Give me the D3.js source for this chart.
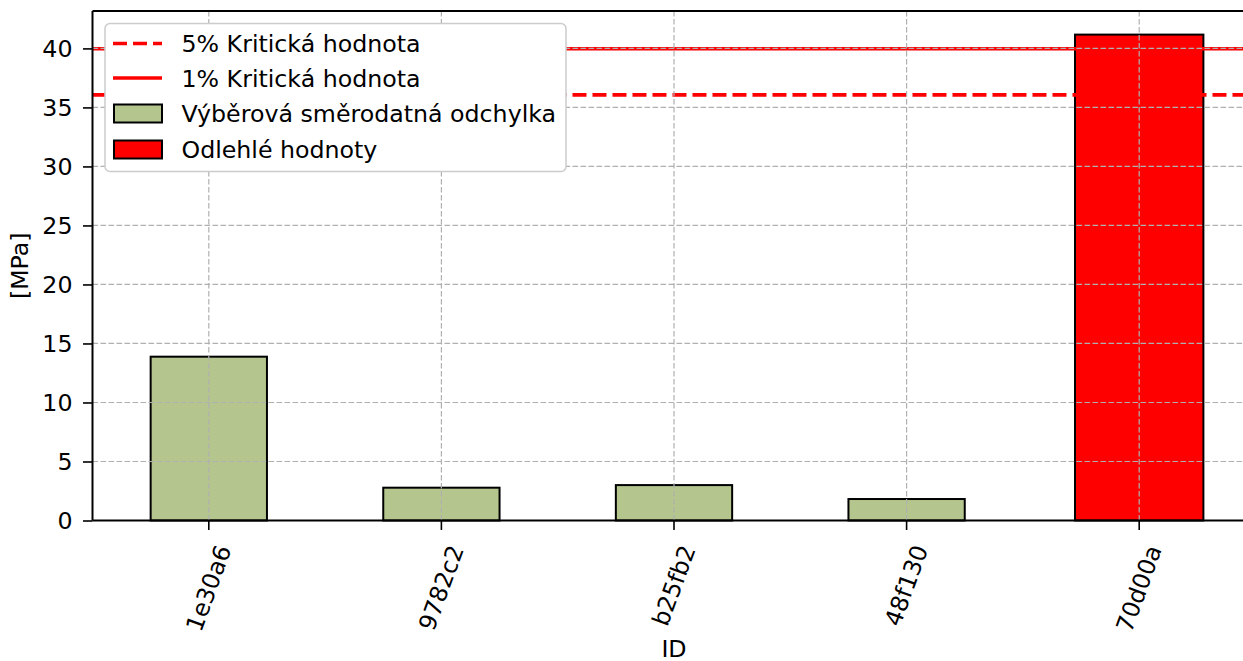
<!DOCTYPE html>
<html>
<head>
<meta charset="utf-8">
<script src="https://cdn.jsdelivr.net/npm/d3@7"></script>
<style>
  body { margin: 0; background: #fff; }
  svg { display: block; font-family: "DejaVu Sans", sans-serif; }
</style>
</head>
<body>
<script>
const width = 1243, height = 661
const fs = 23.7

// data
const ids = ["1e30a6", "9782c2", "b25fb2", "48f130", "70d00a"]
const values = [13.88, 2.78, 3.0, 1.82, 41.17]
const outlier = [false, false, false, false, true]
const crit5 = 36.06
const crit1 = 39.97
const yTicks = [0, 5, 10, 15, 20, 25, 30, 35, 40]
const legendLabels = ["5% Kritická hodnota", "1% Kritická hodnota", "Výběrová směrodatná odchylka", "Odlehlé hodnoty"]

const green = "#b4c68e", red = "#ff0000"
const pLeft = 92.5, pRight = 1255.5, pTop = 11, pBottom = 520.5

const svg = d3.select("body").append("svg")
    .attr("width", width)
    .attr("height", height)

const x = d3.scaleBand().domain(ids).range([pLeft, pRight]).padding(0)
const y = d3.scaleLinear().domain([0, 43.17]).range([pBottom, pTop])
const cx = d => x(d) + x.bandwidth() / 2

const rows = ids.map((id, i) => ({ id, v: values[i], out: outlier[i] }))

// bars
svg.selectAll("rect.bar")
    .data(rows)
    .enter()
    .append("rect")
    .attr("class", "bar")
    .attr("x", d => cx(d.id) - x.bandwidth() * (d.out ? 0.552 : 0.5) / 2)
    .attr("width", d => x.bandwidth() * (d.out ? 0.552 : 0.5))
    .attr("y", d => y(d.v))
    .attr("height", d => y(0) - y(d.v))
    .attr("fill", d => d.out ? red : green)
    .attr("stroke", "#000")
    .attr("stroke-width", 2)

// critical lines
svg.append("line")
    .attr("x1", pLeft).attr("x2", pRight)
    .attr("y1", y(crit5)).attr("y2", y(crit5))
    .attr("stroke", red).attr("stroke-width", 3.6)
    .attr("stroke-dasharray", "14,6")
svg.append("line")
    .attr("x1", pLeft).attr("x2", pRight)
    .attr("y1", y(crit1)).attr("y2", y(crit1))
    .attr("stroke", red).attr("stroke-width", 3.6)

// grid on top
const grid = svg.append("g").attr("stroke", "#b0b0b0").attr("stroke-width", 1.2).attr("stroke-dasharray", "5.6,2.4")
grid.selectAll("line.h").data(yTicks).enter().append("line")
    .attr("class", "h")
    .attr("x1", pLeft).attr("x2", pRight)
    .attr("y1", d => y(d)).attr("y2", d => y(d))
grid.selectAll("line.v").data(ids).enter().append("line")
    .attr("class", "v")
    .attr("x1", d => cx(d)).attr("x2", d => cx(d))
    .attr("y1", pTop).attr("y2", pBottom)

// axes
const yAxis = d3.axisLeft(y).tickValues(yTicks).tickSize(9.5).tickPadding(10.5)
svg.append("g")
    .attr("transform", `translate(${pLeft},0)`)
    .call(yAxis)
    .call(g => g.select(".domain").remove())
    .call(g => g.selectAll("line").attr("stroke-width", 1.6))
    .call(g => g.selectAll("text").attr("font-size", fs).attr("fill", "#000").attr("font-family", "DejaVu Sans"))

const xAxis = d3.axisBottom(x).tickSize(9.5).tickSizeOuter(0)
const xg = svg.append("g")
    .attr("transform", `translate(0,${pBottom})`)
    .call(xAxis)
xg.select(".domain").remove()
xg.selectAll("line").attr("stroke-width", 1.6)
xg.selectAll("text")
    .attr("font-size", fs).attr("fill", "#000").attr("font-family", "DejaVu Sans")
    .attr("dy", null).attr("y", 0)
    .attr("text-anchor", "middle")
    .attr("dominant-baseline", "central")
    .attr("transform", "rotate(-70)")
// place each rotated label: centred on tick, top at 541.5
xg.selectAll(".tick").each(function (d) {
    const t = d3.select(this).select("text")
    const tb = t.node().getBoundingClientRect()
    const dx = cx(d) - (tb.left + tb.width / 2)
    const dy = 541.5 - tb.top
    t.attr("transform", `translate(${dx},${dy}) rotate(-70)`)
})

// spines
const spine = (x1, y1, x2, y2) => svg.append("line")
    .attr("x1", x1).attr("y1", y1).attr("x2", x2).attr("y2", y2)
    .attr("stroke", "#000").attr("stroke-width", 2)
spine(pLeft, pTop, pLeft, pBottom)
spine(pLeft, pBottom, pRight, pBottom)
spine(pLeft, pTop, pRight, pTop)
spine(pRight, pTop, pRight, pBottom)

// axis labels
svg.append("text")
    .attr("transform", `translate(28,${(pTop + pBottom) / 2}) rotate(-90)`)
    .attr("text-anchor", "middle")
    .attr("font-size", fs)
    .text("[MPa]")
svg.append("text")
    .attr("x", (pLeft + pRight) / 2).attr("y", 656.5)
    .attr("text-anchor", "middle")
    .attr("font-size", fs)
    .text("ID")

// legend
const legend = svg.append("g")
legend.append("rect")
    .attr("x", 105).attr("y", 23.5).attr("width", 461).attr("height", 148)
    .attr("rx", 5).attr("fill", "#fff").attr("stroke", "#cccccc").attr("stroke-width", 1.5)
const rowY = [43.5, 78, 113.5, 149.5]
legendLabels.forEach((lab, i) => {
    const ry = rowY[i]
    if (i < 2) {
        legend.append("line")
            .attr("x1", 113).attr("x2", 162).attr("y1", ry).attr("y2", ry)
            .attr("stroke", red).attr("stroke-width", 3.6)
            .attr("stroke-dasharray", i === 0 ? "14,6" : null)
    } else {
        legend.append("rect")
            .attr("x", 114).attr("y", ry - 9).attr("width", 48).attr("height", 18)
            .attr("fill", i === 2 ? green : red)
            .attr("stroke", "#000").attr("stroke-width", 2)
    }
    legend.append("text")
        .attr("x", 181.5).attr("y", ry + 8.5)
        .attr("font-size", fs)
        .text(lab)
})
</script>
</body>
</html>
